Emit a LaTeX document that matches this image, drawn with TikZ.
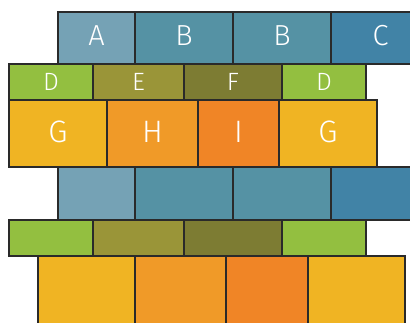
\documentclass[tikz,border=0pt]{standalone}
\usepackage{fontspec}
\setmainfont{Fira Sans}[UprightFont=* Light]
\definecolor{edge}{HTML}{2A2A2A}
\definecolor{cA}{HTML}{75A2B5}
\definecolor{cB}{HTML}{5592A4}
\definecolor{cC}{HTML}{4183A6}
\definecolor{cD}{HTML}{93BF40}
\definecolor{cE}{HTML}{9A9538}
\definecolor{cF}{HTML}{7D7C33}
\definecolor{cG}{HTML}{F0B423}
\definecolor{cH}{HTML}{F09A28}
\definecolor{cI}{HTML}{F08526}
\tikzset{
  brick/.style={draw=edge, line width=1.2pt, inner sep=0pt, outer sep=0pt, text=white},
  bigtxt/.style={font=\fontsize{29}{29}\selectfont, text depth=5pt},
  midtxt/.style={font=\fontsize{25}{25}\selectfont},
  lgtxt/.style={font=\fontsize{31}{31}\selectfont, text depth=3pt},
}
% \brick{name}{x1}{y1}{x2}{y2}{colour}{style}{label}
\newcommand\brick[8]{%
  \node[brick, #7, fill=#6, minimum width={(#4-#2)*1pt}, minimum height={(#5-#3)*1pt}]
    (#1) at ({(#2+#4)/2},{(#3+#5)/2}) {#8};}
\begin{document}
\begin{tikzpicture}[x=1pt,y=-1pt]
\useasboundingbox (0,0) rectangle (410,323);
\clip (0,0) rectangle (410,323);
% row 1
\brick{a1}{58}{12}{135}{64}{cA}{bigtxt}{A}
\brick{b1}{135}{12}{233}{64}{cB}{bigtxt}{B}
\brick{b2}{233}{12}{331}{64}{cB}{bigtxt}{B}
\brick{c1}{331}{12}{430}{64}{cC}{bigtxt}{C}
% row 2
\brick{d1}{9}{64}{93}{100}{cD}{midtxt}{D}
\brick{e1}{93}{64}{184}{100}{cE}{midtxt}{E}
\brick{f1}{184}{64}{282}{100}{cF}{midtxt}{F}
\brick{d2}{282}{64}{366}{100}{cD}{midtxt}{D}
% row 3
\brick{g1}{9}{100}{107}{167}{cG}{lgtxt}{G}
\brick{h1}{107}{100}{198}{167}{cH}{lgtxt}{H}
\brick{i1}{198}{100}{279}{167}{cI}{lgtxt}{I}
\brick{g2}{279}{100}{377}{167}{cG}{lgtxt}{G}
% row 4
\brick{a2}{58}{167}{135}{220}{cA}{}{}
\brick{b3}{135}{167}{233}{220}{cB}{}{}
\brick{b4}{233}{167}{331}{220}{cB}{}{}
\brick{c2}{331}{167}{430}{220}{cC}{}{}
% row 5
\brick{d3}{9}{220}{93}{256}{cD}{}{}
\brick{e2}{93}{220}{184}{256}{cE}{}{}
\brick{f2}{184}{220}{282}{256}{cF}{}{}
\brick{d4}{282}{220}{366}{256}{cD}{}{}
% row 6
\brick{g3}{38}{256}{135}{340}{cG}{}{}
\brick{h2}{135}{256}{226}{340}{cH}{}{}
\brick{i2}{226}{256}{308}{340}{cI}{}{}
\brick{g4}{308}{256}{405}{340}{cG}{}{}
\end{tikzpicture}
\end{document}
